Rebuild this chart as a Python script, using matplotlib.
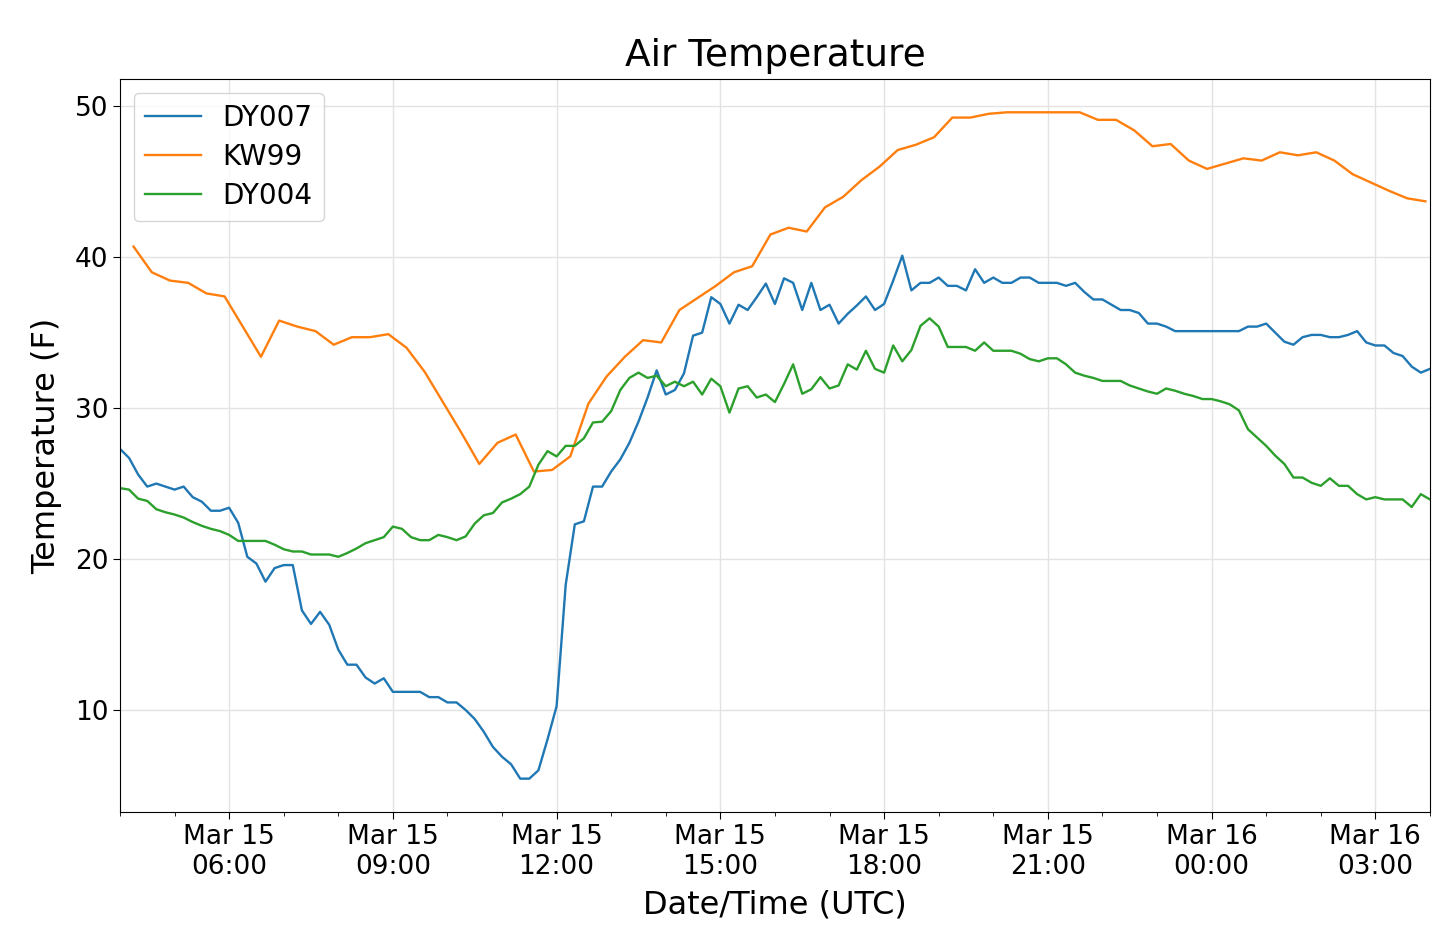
import numpy as np
import pandas as pd
import matplotlib
matplotlib.use("Agg")
import matplotlib.pyplot as plt
import matplotlib.dates as mdates

# ---- data (degrees F) ----
# DY007 and DY004: every 10 minutes, Mar 15 04:00 -> Mar 16 04:00 UTC
dy007 = [
    27.3, 26.7, 25.6, 24.8, 25.0, 24.8,      # 04
    24.6, 24.8, 24.1, 23.8, 23.2, 23.2,      # 05
    23.4, 22.4, 20.15, 19.7, 18.5, 19.4,     # 06
    19.6, 19.6, 16.6, 15.7, 16.5, 15.65,     # 07
    14.0, 13.0, 13.0, 12.15, 11.75, 12.1,    # 08
    11.2, 11.2, 11.2, 11.2, 10.85, 10.85,    # 09
    10.5, 10.5, 10.0, 9.4, 8.55, 7.55,       # 10
    6.9, 6.4, 5.45, 5.45, 6.0, 8.05,         # 11
    10.25, 18.3, 22.3, 22.5, 24.8, 24.8,     # 12
    25.8, 26.6, 27.7, 29.1, 30.7, 32.5,      # 13
    30.9, 31.2, 32.3, 34.8, 35.0, 37.35,     # 14
    36.9, 35.6, 36.85, 36.5, 37.35, 38.25,   # 15
    36.9, 38.6, 38.3, 36.5, 38.3, 36.5,      # 16
    36.85, 35.6, 36.25, 36.8, 37.4, 36.5,    # 17
    36.9, 38.45, 40.1, 37.8, 38.3, 38.3,     # 18
    38.65, 38.1, 38.1, 37.8, 39.2, 38.3,     # 19
    38.65, 38.3, 38.3, 38.65, 38.65, 38.3,   # 20
    38.3, 38.3, 38.1, 38.3, 37.7, 37.2,      # 21
    37.2, 36.85, 36.5, 36.5, 36.3, 35.6,     # 22
    35.6, 35.4, 35.1, 35.1, 35.1, 35.1,      # 23
    35.1, 35.1, 35.1, 35.1, 35.4, 35.4,      # 00
    35.6, 35.0, 34.4, 34.2, 34.7, 34.85,     # 01
    34.85, 34.7, 34.7, 34.85, 35.1, 34.35,   # 02
    34.15, 34.15, 33.65, 33.45, 32.75, 32.35,  # 03
    32.6,                                    # 04
]

dy004 = [
    24.7, 24.6, 24.0, 23.85, 23.3, 23.1,     # 04
    22.95, 22.75, 22.45, 22.2, 22.0, 21.85,  # 05
    21.6, 21.2, 21.2, 21.2, 21.2, 20.95,     # 06
    20.65, 20.5, 20.5, 20.3, 20.3, 20.3,     # 07
    20.15, 20.4, 20.7, 21.05, 21.25, 21.45,  # 08
    22.15, 22.0, 21.45, 21.25, 21.25, 21.6,  # 09
    21.45, 21.25, 21.5, 22.35, 22.9, 23.05,  # 10
    23.75, 24.0, 24.3, 24.8, 26.25, 27.15,   # 11
    26.8, 27.5, 27.5, 28.0, 29.05, 29.1,     # 12
    29.8, 31.2, 32.0, 32.35, 32.0, 32.15,    # 13
    31.45, 31.75, 31.45, 31.75, 30.9, 31.95, # 14
    31.45, 29.7, 31.3, 31.45, 30.7, 30.9,    # 15
    30.4, 31.6, 32.9, 30.95, 31.25, 32.05,   # 16
    31.3, 31.5, 32.9, 32.55, 33.8, 32.6,     # 17
    32.35, 34.15, 33.1, 33.85, 35.45, 35.95, # 18
    35.4, 34.05, 34.05, 34.05, 33.8, 34.35,  # 19
    33.8, 33.8, 33.8, 33.6, 33.25, 33.1,     # 20
    33.3, 33.3, 32.9, 32.35, 32.15, 32.0,    # 21
    31.8, 31.8, 31.8, 31.5, 31.3, 31.1,      # 22
    30.95, 31.3, 31.15, 30.95, 30.8, 30.6,   # 23
    30.6, 30.45, 30.25, 29.85, 28.6, 28.05,  # 00
    27.5, 26.85, 26.3, 25.4, 25.4, 25.05,    # 01
    24.85, 25.35, 24.85, 24.85, 24.3, 23.95, # 02
    24.1, 23.95, 23.95, 23.95, 23.45, 24.3,  # 03
    23.95,                                   # 04
]

# KW99: every 20 minutes at :15, :35, :55, Mar 15 04:15 -> Mar 16 03:55 UTC
kw99 = [
    40.7, 39.0, 38.45,     # 04
    38.3, 37.6, 37.4,      # 05
    35.4, 33.4, 35.8,      # 06
    35.4, 35.1, 34.2,      # 07
    34.7, 34.7, 34.9,      # 08
    34.0, 32.4, 30.4,      # 09
    28.4, 26.3, 27.7,      # 10
    28.25, 25.8, 25.9,     # 11
    26.8, 30.3, 32.1,      # 12
    33.4, 34.5, 34.35,     # 13
    36.5, 37.3, 38.1,      # 14
    39.0, 39.4, 41.5,      # 15
    41.95, 41.7, 43.3,     # 16
    44.0, 45.1, 46.0,      # 17
    47.1, 47.45, 47.95,    # 18
    49.25, 49.25, 49.5,    # 19
    49.6, 49.6, 49.6,      # 20
    49.6, 49.6, 49.1,      # 21
    49.1, 48.4, 47.35,     # 22
    47.5, 46.4, 45.85,     # 23
    46.2, 46.55, 46.4,     # 00
    46.95, 46.75, 46.95,   # 01
    46.4, 45.5, 44.95,     # 02
    44.4, 43.9, 43.7,      # 03
]

t_dy = pd.date_range("2019-03-15 04:00", periods=len(dy007), freq="10min")
t_kw = pd.date_range("2019-03-15 04:15", periods=len(kw99), freq="20min")

fig = plt.figure(figsize=(14.4, 9.48), dpi=100)
ax = fig.add_axes([0.0833, 0.1435, 0.9097, 0.7732])

ax.plot(t_dy, dy007, color="#1f77b4", lw=1.7, label="DY007")
ax.plot(t_kw, kw99, color="#ff7f0e", lw=1.7, label="KW99")
ax.plot(t_dy, dy004, color="#2ca02c", lw=1.7, label="DY004")

ax.set_xlim(t_dy[0], t_dy[-1])
ax.xaxis.set_major_locator(mdates.HourLocator(byhour=[0, 3, 6, 9, 12, 15, 18, 21]))
ax.xaxis.set_minor_locator(mdates.HourLocator())
ax.xaxis.set_major_formatter(mdates.DateFormatter("%b %d\n%H:%M"))
ax.set_yticks([10, 20, 30, 40, 50])

ax.grid(True, which="major", color="#e3e3e3", lw=1.0)
ax.set_axisbelow(True)
ax.tick_params(axis="both", which="major", labelsize=19, length=5)
ax.tick_params(axis="both", which="minor", length=3)

ax.set_title("Air Temperature", fontsize=27, pad=9)
ax.set_xlabel("Date/Time (UTC)", fontsize=23, labelpad=7)
ax.set_ylabel("Temperature (F)", fontsize=23, labelpad=9)

ax.legend(loc="upper left", fontsize=20, handlelength=2.0, labelspacing=0.4)

fig.savefig("out.png", dpi=100)
